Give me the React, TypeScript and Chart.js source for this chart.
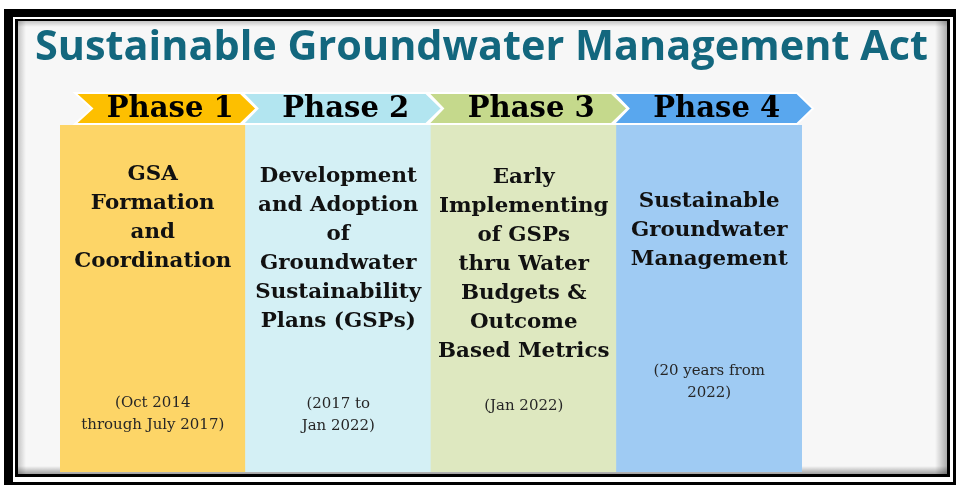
import React, { useEffect, useRef } from "react";
import { Chart, registerables } from "chart.js";

Chart.register(...registerables);

// ---------- data ----------
const title = "Sustainable Groundwater Management Act";
const phases = ["Phase 1", "Phase 2", "Phase 3", "Phase 4"];
const phaseSpan = [1, 1, 1, 1];
const phase1Text = ["GSA", "Formation", "and", "Coordination"];
const phase2Text = ["Development", "and Adoption", "of", "Groundwater", "Sustainability", "Plans (GSPs)"];
const phase3Text = ["Early", "Implementing", "of GSPs", "thru Water", "Budgets &", "Outcome", "Based Metrics"];
const phase4Text = ["Sustainable", "Groundwater", "Management"];
const phase1Period = ["(Oct 2014", "through July 2017)"];
const phase2Period = ["(2017 to", "Jan 2022)"];
const phase3Period = ["(Jan 2022)"];
const phase4Period = ["(20 years from", "2022)"];

const descriptions = [phase1Text, phase2Text, phase3Text, phase4Text];
const periods = [phase1Period, phase2Period, phase3Period, phase4Period];

// ---------- styles / layout ----------
const columnColors = ["#fdd567", "#d4f0f5", "#dee8c0", "#9fcbf3"];
const chevronColors = ["#fdbf00", "#b2e5f0", "#c5d98c", "#59a7ee"];
const titleColor = "#13677e";
const descTop = [180, 182, 183, 207];
const periodTop = [407, 408, 410, 375];
const DESC_LH = 29;
const PERIOD_LH = 22;

function drawScaled(ctx: CanvasRenderingContext2D, text: string, x: number, y: number, sx: number) {
  ctx.save();
  ctx.translate(x, y);
  ctx.scale(sx, 1);
  ctx.fillText(text, 0, 0);
  ctx.restore();
}

const decor = {
  id: "decor",
  beforeDraw(chart: any) {
    const ctx: CanvasRenderingContext2D = chart.ctx;
    const W = chart.width;
    const H = chart.height;
    ctx.save();
    ctx.fillStyle = "#ffffff";
    ctx.fillRect(0, 0, W, H);
    // frame
    ctx.fillStyle = "#000000";
    ctx.fillRect(4, 9, W - 4, H - 9);
    ctx.fillStyle = "#ffffff";
    ctx.fillRect(13, 17, 953 - 13, 482 - 17);
    ctx.fillStyle = "#000000";
    ctx.fillRect(15, 19, 950 - 15, 477 - 19);
    ctx.fillStyle = "#f7f7f7";
    const ix0 = 18, iy0 = 21, ix1 = 947, iy1 = 474;
    ctx.fillRect(ix0, iy0, ix1 - ix0, iy1 - iy0);
    // inner shadows
    let g = ctx.createLinearGradient(ix1, 0, ix1 - 12, 0);
    g.addColorStop(0, "rgba(0,0,0,0.3)");
    g.addColorStop(1, "rgba(0,0,0,0)");
    ctx.fillStyle = g;
    ctx.fillRect(ix1 - 12, iy0, 12, iy1 - iy0);
    g = ctx.createLinearGradient(0, iy1, 0, iy1 - 8);
    g.addColorStop(0, "rgba(0,0,0,0.35)");
    g.addColorStop(1, "rgba(0,0,0,0)");
    ctx.fillStyle = g;
    ctx.fillRect(ix0, iy1 - 8, ix1 - ix0, 8);
    g = ctx.createLinearGradient(ix0, 0, ix0 + 8, 0);
    g.addColorStop(0, "rgba(0,0,0,0.2)");
    g.addColorStop(1, "rgba(0,0,0,0)");
    ctx.fillStyle = g;
    ctx.fillRect(ix0, iy0, 8, iy1 - iy0);
    g = ctx.createLinearGradient(0, iy0, 0, iy0 + 6);
    g.addColorStop(0, "rgba(0,0,0,0.2)");
    g.addColorStop(1, "rgba(0,0,0,0)");
    ctx.fillStyle = g;
    ctx.fillRect(ix0, iy0, ix1 - ix0, 6);

    // title
    ctx.fillStyle = titleColor;
    ctx.font = "bold 41px 'Open Sans'";
    ctx.textAlign = "left";
    ctx.textBaseline = "alphabetic";
    const tw = ctx.measureText(title).width;
    const sx = 893 / tw;
    drawScaled(ctx, title, 35, 60, sx);
    ctx.restore();
  },
  afterDatasetsDraw(chart: any) {
    const ctx: CanvasRenderingContext2D = chart.ctx;
    const bars = chart.getDatasetMeta(0).data;
    ctx.save();
    const top = 93, bot = 124, mid = (top + bot) / 2, depth = 15;
    // chevrons
    bars.forEach((bar: any, i: number) => {
      const L = bar.x - bar.width / 2;
      const R = bar.x + bar.width / 2;
      const left = i === 0 ? L + 15 : L - 3;
      const right = R - 5;
      ctx.beginPath();
      ctx.moveTo(left, top);
      ctx.lineTo(right, top);
      ctx.lineTo(right + depth + 1, mid);
      ctx.lineTo(right, bot);
      ctx.lineTo(left, bot);
      ctx.lineTo(left + depth + (i === 0 ? 2 : 0), mid);
      ctx.closePath();
      ctx.fillStyle = chevronColors[i];
      ctx.fill();
      ctx.strokeStyle = "#ffffff";
      ctx.lineWidth = 2;
      ctx.stroke();
    });
    // phase labels
    ctx.fillStyle = "#000000";
    ctx.textAlign = "center";
    ctx.textBaseline = "alphabetic";
    ctx.font = "bold 29px 'DejaVu Serif'";
    const psx = 127 / ctx.measureText("Phase 1").width;
    bars.forEach((bar: any, i: number) => {
      const L = bar.x - bar.width / 2;
      const R = bar.x + bar.width / 2;
      const left = i === 0 ? L + 15 : L - 3;
      const notch = left + depth + (i === 0 ? 2 : 0);
      const cx = (notch + R - 5) / 2 + 4;
      drawScaled(ctx, phases[i], cx, 117, psx);
    });
    // descriptions
    ctx.fillStyle = "#111111";
    ctx.font = "bold 20px 'DejaVu Serif'";
    const dsx = 157 / ctx.measureText("Coordination").width;
    bars.forEach((bar: any, i: number) => {
      descriptions[i].forEach((line, j) => {
        drawScaled(ctx, line, bar.x, descTop[i] + j * DESC_LH, dsx);
      });
    });
    // periods
    ctx.fillStyle = "#262626";
    ctx.font = "15px 'DejaVu Serif'";
    const qsx = 143 / ctx.measureText("through July 2017)").width;
    bars.forEach((bar: any, i: number) => {
      periods[i].forEach((line, j) => {
        drawScaled(ctx, line, bar.x, periodTop[i] + j * PERIOD_LH, qsx);
      });
    });
    ctx.restore();
  },
};

export default function App() {
  const ref = useRef<HTMLCanvasElement>(null);
  useEffect(() => {
    document.body.style.margin = "0";
    const chart = new Chart(ref.current as HTMLCanvasElement, {
      type: "bar",
      data: {
        labels: phases,
        datasets: [
          {
            data: phaseSpan,
            backgroundColor: columnColors,
            borderWidth: 0,
            barPercentage: 1,
            categoryPercentage: 1,
          },
        ],
      },
      options: {
        responsive: false,
        animation: false,
        layout: { padding: { left: 60, right: 154, top: 125, bottom: 13 } },
        plugins: { legend: { display: false }, tooltip: { enabled: false } },
        scales: {
          x: { display: false },
          y: { display: false, min: 0, max: 1 },
        },
      },
      plugins: [decor],
    });
    return () => chart.destroy();
  }, []);
  return (
    <div style={{ width: 956, height: 485 }}>
      <canvas ref={ref} width={956} height={485} style={{ display: "block" }} />
    </div>
  );
}
